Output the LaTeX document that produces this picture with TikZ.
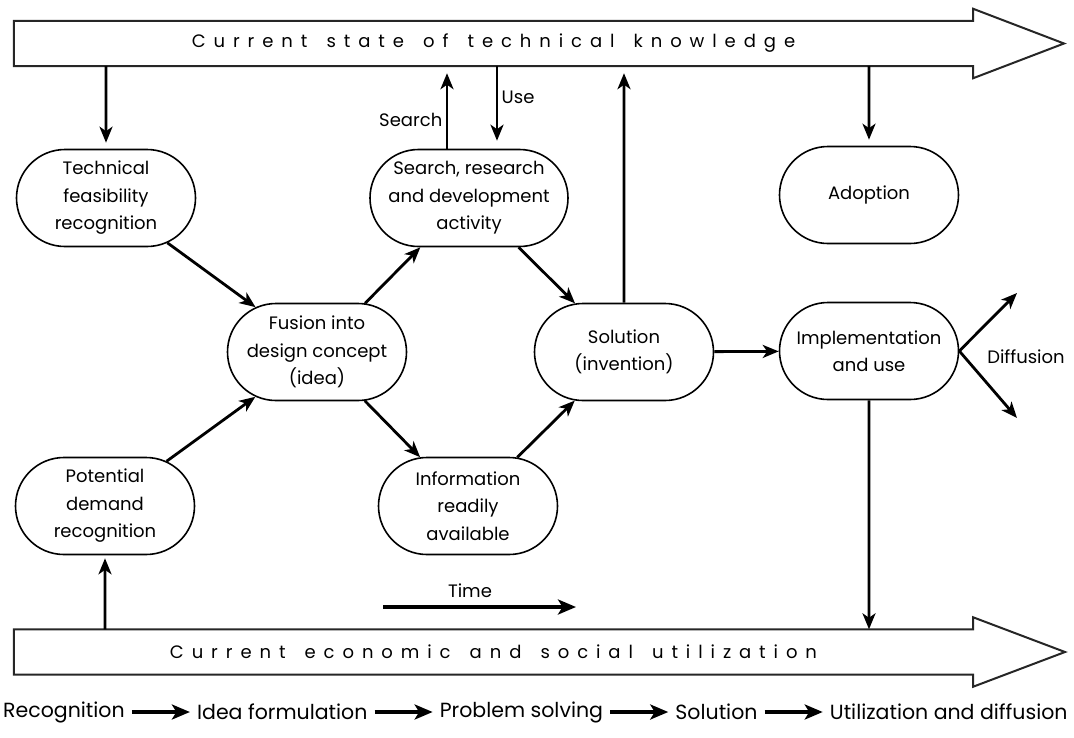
\documentclass[tikz,border=0pt]{standalone}
\usepackage{fontspec}
\setmainfont{Poppins}
\newfontfamily\bandfont{Poppins}[LetterSpace=44, WordSpace=1.5]
\usetikzlibrary{arrows.meta,positioning,shapes.misc}

\begin{document}
\begin{tikzpicture}[x=1pt, y=-1pt, node distance=66pt,
    font=\fontsize{18}{27.5}\selectfont,
    box/.style={draw, rounded rectangle, line width=1.6pt, minimum width=183pt, minimum height=97pt, align=center, inner sep=2pt},
    conn/.style={line width=2.8pt, -{Stealth[length=16pt,width=13pt,inset=4.5pt]}},
    fat/.style={line width=4.5pt, -{Stealth[length=18pt,width=15pt,inset=4.5pt]}},
    band/.style={line width=2pt, draw=black!85, line join=miter},
    bandtext/.style={minimum width=959pt, minimum height=45pt, inner sep=0pt, font=\bandfont\fontsize{18}{20}\selectfont},
    legend/.style={inner sep=3pt, font=\fontsize{20.5}{22}\selectfont}]

    \useasboundingbox (0,0) rectangle (1074,737);

    % Bands
    \node[bandtext] (know) at (493.5,43.5) {Current state of technical knowledge};
    \draw[band] (know.south west) -- (know.north west) -- (know.north east) -- ++(0,-12) -- (1064,43.5) -- ([yshift=-12pt]know.south east) -- (know.south east) -- cycle;
    \node[bandtext] (util) at (493.5,652) {Current economic and social utilization};
    \draw[band] (util.south west) -- (util.north west) -- (util.north east) -- ++(0,-12) -- (1065,652) -- ([yshift=-12pt]util.south east) -- (util.south east) -- cycle;

    % Boxes
    \node[box] (tech) at (106,198) {Technical\\feasibility\\recognition};
    \node[box, minimum width=202pt] (search) at (469,198) {Search, research\\and development\\activity};
    \node[box] (adopt) at (869,195) {Adoption};
    \node[box] (fusion) at (317,352) {Fusion into\\design concept\\(idea)};
    \node[box] (sol) at (624,352) {Solution\\(invention)};
    \node[box] (impl) at (869,351) {Implementation\\and use};
    \node[box] (pot) at (105,506) {Potential\\demand\\recognition};
    \node[box] (info) at (468,506) {Information\\readily\\available};

    % Connections
    \draw[conn, shorten >=6pt] (know.south -| tech) -- (tech);
    \draw[conn, shorten >=7pt] ([xshift=-22pt]search.north) -- ([xshift=-22pt]search.north |- know.south) node[pos=0.35, left] {Search};
    \draw[conn, shorten >=8pt] ([xshift=28pt]search.north |- know.south) -- ([xshift=28pt]search.north) node[pos=0.38, right] {Use};
    \draw[conn, shorten >=7pt] (sol) -- (sol |- know.south);
    \draw[conn, shorten >=6pt] (know.south -| adopt) -- (adopt);
    \draw[conn] (tech) -- (fusion);
    \draw[conn] (pot) -- (fusion);
    \draw[conn] (fusion) -- (search);
    \draw[conn] (fusion) -- (info);
    \draw[conn] (search) -- (sol);
    \draw[conn] (info) -- (sol);
    \draw[conn] (sol) -- (impl);
    \draw[conn] (impl) -- (impl |- util.north);
    \draw[conn, shorten >=3pt] (util.north -| pot) -- (pot);

    % Diffusion
    \coordinate (dup) at (1017,293);
    \coordinate (ddown) at (1017,418);
    \draw[conn] (impl.east) -- (dup);
    \draw[conn] (impl.east) -- (ddown);
    \node (diff) at (1026,357) {Diffusion};

    % Time
    \coordinate (t0) at (383,607);
    \coordinate (t1) at (576,607);
    \draw[fat] (t0) -- (t1);
    \node (time) at (470,591) {Time};

    % Phases
    \node[legend, anchor=west] (rec) at (0,712) {Recognition};
    \node[legend, right=of rec] (idea) {Idea formulation};
    \node[legend, right=of idea] (prob) {Problem solving};
    \node[legend, right=of prob] (soln) {Solution};
    \node[legend, right=of soln] (usage) {Utilization and diffusion};
    \draw[fat, shorten <=4pt, shorten >=4pt] (rec) -- (idea);
    \draw[fat, shorten <=4pt, shorten >=4pt] (idea) -- (prob);
    \draw[fat, shorten <=4pt, shorten >=4pt] (prob) -- (soln);
    \draw[fat, shorten <=4pt, shorten >=4pt] (soln) -- (usage);
\end{tikzpicture}
\end{document}
